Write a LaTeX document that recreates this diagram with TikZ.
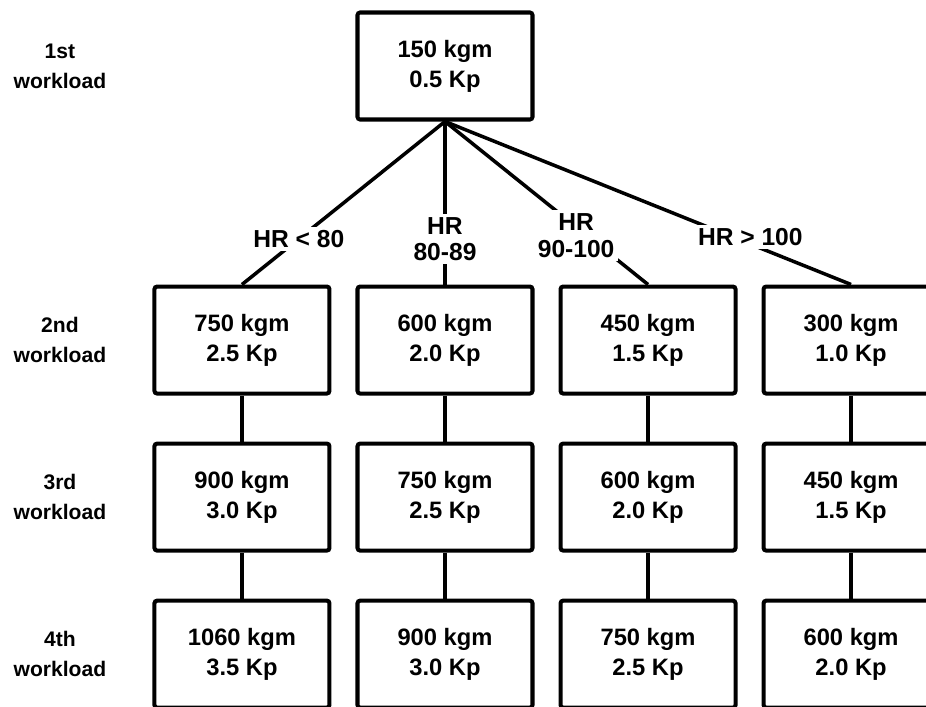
\documentclass[tikz,border=0pt]{standalone}
\usepackage{fontspec}
\setmainfont{Liberation Sans}
\usetikzlibrary{positioning}
\tikzset{
  every node/.style={font=\fontsize{13.5}{17}\selectfont\bfseries},
  box/.style={draw,line width=2.3pt,rounded corners=1.5pt,minimum width=35mm,minimum height=21.4mm,align=center,inner sep=3pt},
  conn/.style={line width=2pt},
  hrlabel/.style={fill=white,inner sep=2pt,align=center,font=\fontsize{14}{15}\selectfont\bfseries},
  rowlabel/.style={align=center,font=\fontsize{12}{17}\selectfont\bfseries},
}

\begin{document}
\begin{tikzpicture}[node distance=9.2mm and 4.8mm]
\useasboundingbox (0,0) rectangle (18.52,-14.14);
\clip (0,0) rectangle (18.52,-14.14);

% 1st workload
\node[box] (top) at (8.9,-1.32) {150 kgm\\0.5 Kp};

% 2nd workload
\node[box,below=32.6mm of top] (b22) {600 kgm\\2.0 Kp};
\node[box,left=of b22] (b21) {750 kgm\\2.5 Kp};
\node[box,right=of b22] (b23) {450 kgm\\1.5 Kp};
\node[box,right=of b23] (b24) {300 kgm\\1.0 Kp};

% 3rd workload
\node[box,below=of b21] (b31) {900 kgm\\3.0 Kp};
\node[box,below=of b22] (b32) {750 kgm\\2.5 Kp};
\node[box,below=of b23] (b33) {600 kgm\\2.0 Kp};
\node[box,below=of b24] (b34) {450 kgm\\1.5 Kp};

% 4th workload
\node[box,below=of b31] (b41) {1060 kgm\\3.5 Kp};
\node[box,below=of b32] (b42) {900 kgm\\3.0 Kp};
\node[box,below=of b33] (b43) {750 kgm\\2.5 Kp};
\node[box,below=of b34] (b44) {600 kgm\\2.0 Kp};

% row labels
\node[rowlabel,left=8mm of b21] (w2) {2nd\\workload};
\node[rowlabel] (w1) at (w2 |- top) {1st\\workload};
\node[rowlabel] (w3) at (w2 |- b31) {3rd\\workload};
\node[rowlabel] (w4) at (w2 |- b41) {4th\\workload};

% heart rate branches
\draw[conn] (top.south) -- node[hrlabel,pos=0.72]{HR < 80} (b21.north);
\draw[conn] (top.south) -- node[hrlabel,pos=0.72]{HR\\80-89} (b22.north);
\draw[conn] (top.south) -- node[hrlabel,pos=0.7,xshift=-2.2mm]{HR\\90-100} (b23.north);
\draw[conn] (top.south) -- node[hrlabel,pos=0.71,xshift=3.4mm]{HR > 100} (b24.north);

% columns
\foreach \c in {1,2,3,4} {
  \draw[conn] (b2\c) -- (b3\c);
  \draw[conn] (b3\c) -- (b4\c);
}

\end{tikzpicture}
\end{document}
